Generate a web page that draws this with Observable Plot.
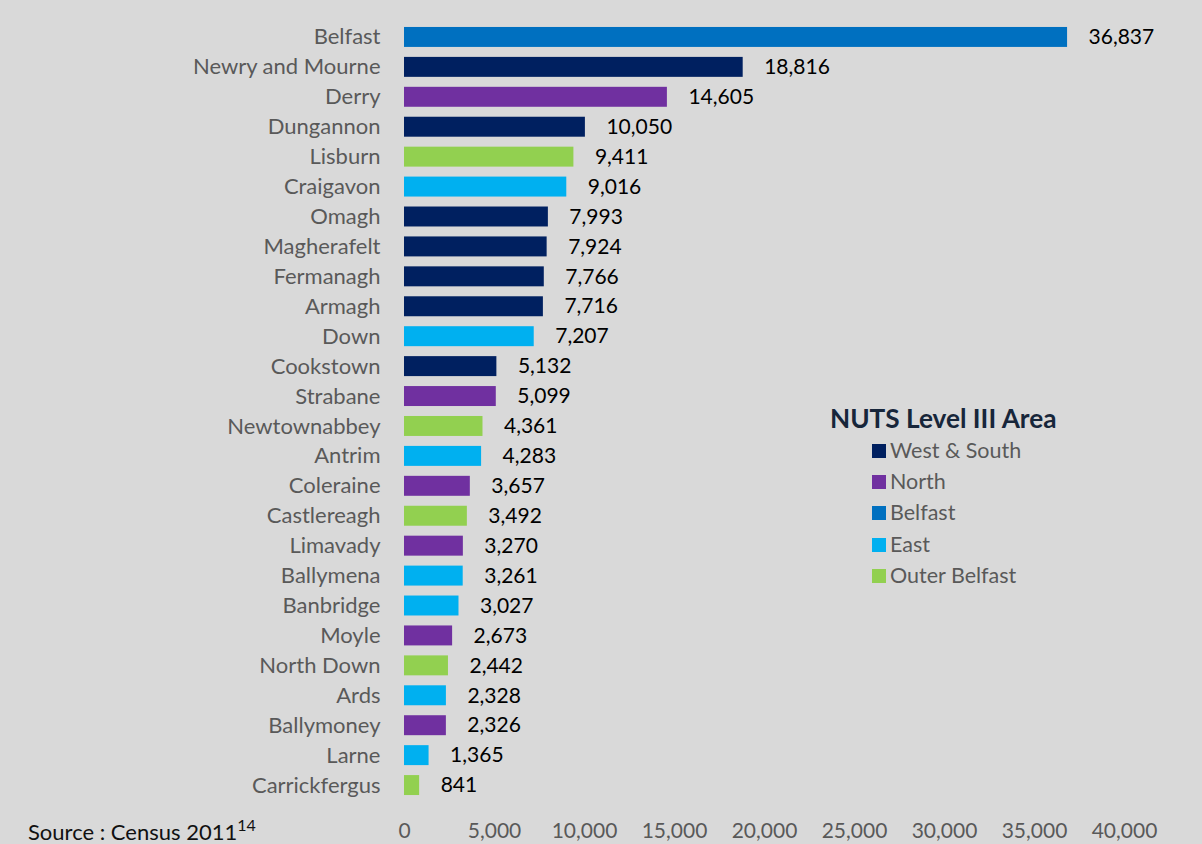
<!DOCTYPE html>
<html><head><meta charset="utf-8">
<script src="https://cdn.jsdelivr.net/npm/d3@7"></script>
<script src="https://cdn.jsdelivr.net/npm/@observablehq/plot@0.6"></script>
<style>
html,body{margin:0;padding:0;background:#d9d9d9;}
#wrap{position:relative;width:1202px;height:844px;overflow:hidden;background:#d9d9d9;font-family:Lato,"Open Sans",sans-serif;}
#legend{position:absolute;left:0;top:0;}
#legend .t{position:absolute;left:830px;top:402px;font-weight:bold;font-size:26.2px;line-height:32px;color:#17263a;white-space:nowrap;}
#legend .it{position:absolute;left:872px;font-size:21.5px;line-height:26px;color:#595959;white-space:nowrap;}
#legend .sw{display:inline-block;width:14px;height:14px;margin-right:4px;vertical-align:0px;}
#source{position:absolute;left:28px;top:821px;font-size:22px;line-height:22px;color:#111;white-space:nowrap;}
#source sup{font-size:16px;vertical-align:9px;line-height:0;}
</style></head>
<body><div id="wrap"><div id="chart"></div><div id="legend"></div><div id="source">Source : Census 2011<sup>14</sup></div></div>
<script>
const areas = ["Belfast","Newry and Mourne","Derry","Dungannon","Lisburn","Craigavon","Omagh","Magherafelt","Fermanagh","Armagh","Down","Cookstown","Strabane","Newtownabbey","Antrim","Coleraine","Castlereagh","Limavady","Ballymena","Banbridge","Moyle","North Down","Ards","Ballymoney","Larne","Carrickfergus"];
const values = [36837,18816,14605,10050,9411,9016,7993,7924,7766,7716,7207,5132,5099,4361,4283,3657,3492,3270,3261,3027,2673,2442,2328,2326,1365,841];
const regions = ["Belfast","West & South","North","West & South","Outer Belfast","East","West & South","West & South","West & South","West & South","East","West & South","North","Outer Belfast","East","North","Outer Belfast","North","East","East","North","Outer Belfast","East","North","East","Outer Belfast"];
const legendNames = ["West & South","North","Belfast","East","Outer Belfast"];
const legendColors = ["#002060","#7030a0","#0070c0","#00b0f0","#92d050"];
const xTicks = [0,5000,10000,15000,20000,25000,30000,35000,40000];

const data = areas.map((a,i)=>({area:a,value:values[i],region:regions[i]}));
const fmt = d3.format(",");

const chart = Plot.plot({
  width:1202, height:844,
  marginLeft:404, marginRight:78, marginTop:17, marginBottom:39,
  style:{background:"transparent", fontFamily:"Lato, 'Open Sans', sans-serif", fontSize:"21px"},
  x:{domain:[0,40000], ticks:xTicks, tickFormat:fmt, tickSize:0, label:null},
  y:{domain:areas, padding:0.333, round:false, tickSize:0, label:null},
  color:{domain:legendNames, range:legendColors},
  marks:[
    Plot.barX(data,{x:"value", y:"area", fill:"region"}),
    Plot.text(data,{x:"value", y:"area", text:d=>fmt(d.value), textAnchor:"start", dx:21, fill:"#000", fontSize:21}),
    Plot.axisX({ticks:xTicks, tickFormat:fmt, tickSize:0, tickPadding:18, fill:"#595959", fontSize:21, label:null}),
    Plot.axisY({tickSize:0, tickPadding:24, fill:"#595959", fontSize:22, label:null})
  ]
});
document.getElementById("chart").appendChild(chart);

const lg = document.getElementById("legend");
const itemY = [450,481,512,544,575];
lg.innerHTML = '<div class="t">NUTS Level III Area</div>' + legendNames.map((n,i)=>`<div class="it" style="top:${itemY[i]-13}px"><span class="sw" style="background:${legendColors[i]}"></span>${n.replace("&","&amp;")}</div>`).join("");
</script></body></html>
